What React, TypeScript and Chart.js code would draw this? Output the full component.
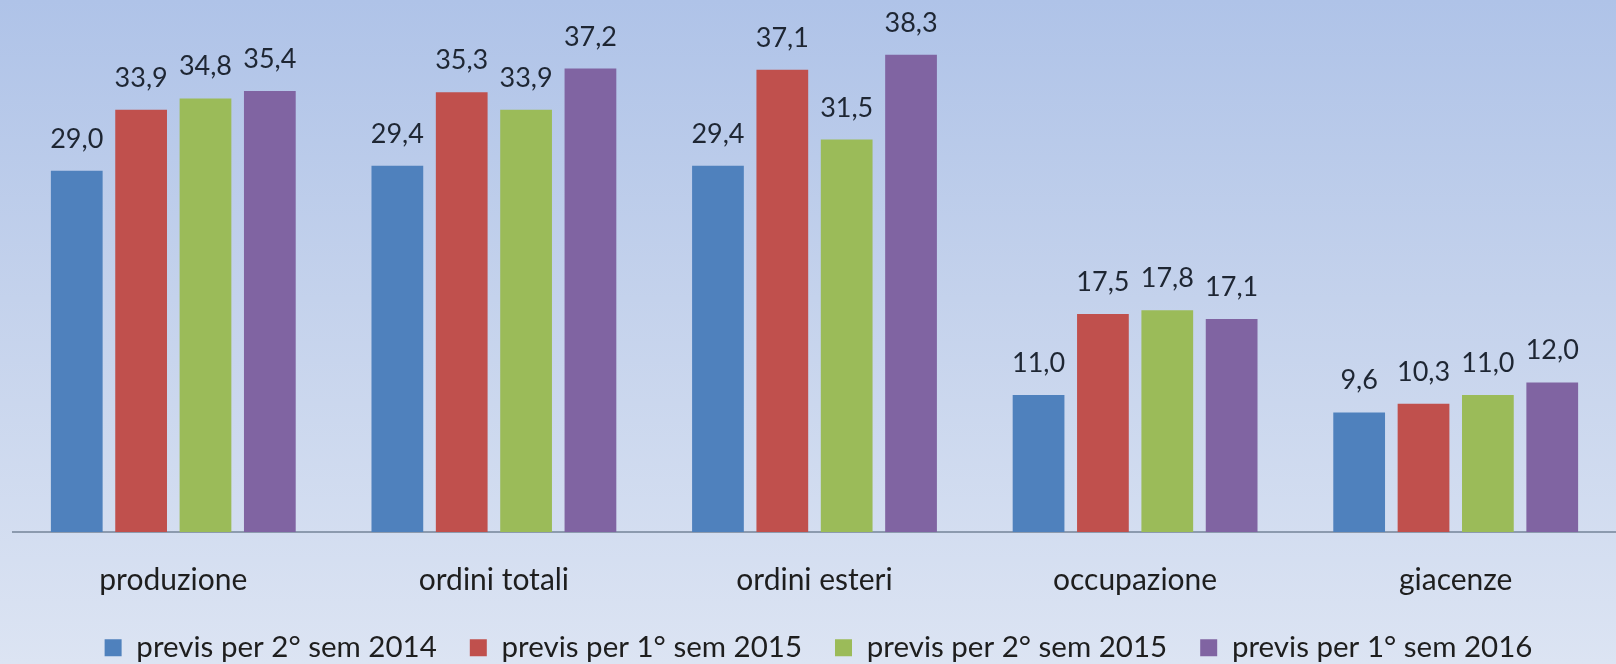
import React, { useEffect, useRef } from "react";
import { Chart, registerables } from "chart.js";

Chart.register(...registerables);

const categories = ["produzione", "ordini totali", "ordini esteri", "occupazione", "giacenze"];
const seriesNames = [
  "previs per 2° sem 2014",
  "previs per 1° sem 2015",
  "previs per 2° sem 2015",
  "previs per 1° sem 2016",
];
const s2014b = [29.0, 29.4, 29.4, 11.0, 9.6];
const s2015a = [33.9, 35.3, 37.1, 17.5, 10.3];
const s2015b = [34.8, 33.9, 31.5, 17.8, 11.0];
const s2016a = [35.4, 37.2, 38.3, 17.1, 12.0];
const seriesColors = ["#4F81BD", "#C0504D", "#9BBB59", "#8064A2"];

const FONT = "Lato, 'DejaVu Sans', sans-serif";
const LEGEND_HEIGHT = 64;
const XAXIS_HEIGHT = 68;

const labelPlugin = {
  id: "valueLabels",
  afterInit(chart: any) {
    const lg = chart.legend;
    if (lg) {
      const orig = lg.update.bind(lg);
      lg.update = (w: number, h: number, m: any) => {
        orig(w, h, m);
        lg.height = LEGEND_HEIGHT;
      };
    }
  },
  afterDatasetsDraw(chart: any) {
    const ctx = chart.ctx;
    ctx.save();
    ctx.font = `27px ${FONT}`;
    ctx.fillStyle = "#1E2633";
    ctx.textAlign = "center";
    ctx.textBaseline = "alphabetic";
    chart.data.datasets.forEach((ds: any, i: number) => {
      const meta = chart.getDatasetMeta(i);
      meta.data.forEach((bar: any, j: number) => {
        const v = ds.data[j] as number;
        ctx.fillText(v.toFixed(1).replace(".", ","), bar.x, bar.y - 23);
      });
    });
    ctx.restore();
  },
};

export default function App() {
  const ref = useRef<HTMLCanvasElement>(null);
  useEffect(() => {
    document.body.style.margin = "0";
    const all = [s2014b, s2015a, s2015b, s2016a];
    const chart = new Chart(ref.current!, {
      type: "bar",
      data: {
        labels: categories,
        datasets: all.map((d, i) => ({
          label: seriesNames[i],
          data: d,
          backgroundColor: seriesColors[i],
          borderWidth: 0,
          barPercentage: 0.804,
          categoryPercentage: 0.803,
        })),
      },
      options: {
        animation: false,
        responsive: false,
        maintainAspectRatio: false,
        layout: { padding: { left: 13, right: -8, top: 0, bottom: 0 } },
        scales: {
          x: {
            grid: { display: false, drawTicks: false },
            border: { display: true, color: "#8C9AAE", width: 2 },
            ticks: { color: "#1E1E1E", font: { family: FONT, size: 30 }, padding: 30 },
            afterFit: (scale: any) => {
              scale.height = XAXIS_HEIGHT;
            },
          },
          y: { display: false, min: 0, max: 42.7 },
        },
        plugins: {
          legend: {
            position: "bottom",
            labels: {
              boxWidth: 17,
              boxHeight: 17,
              padding: 33,
              color: "#1E1E1E",
              font: { family: FONT, size: 29.5 },
            },
          },
          tooltip: { enabled: false },
        },
      },
      plugins: [labelPlugin],
    });
    return () => chart.destroy();
  }, []);
  return (
    <div
      style={{
        position: "fixed",
        left: 0,
        top: 0,
        width: 1616,
        height: 664,
        background: "linear-gradient(to bottom, #AFC3E8 0%, #C4D2EC 45%, #DCE4F3 100%)",
      }}
    >
      <canvas ref={ref} width={1616} height={664} style={{ display: "block" }} />
    </div>
  );
}
